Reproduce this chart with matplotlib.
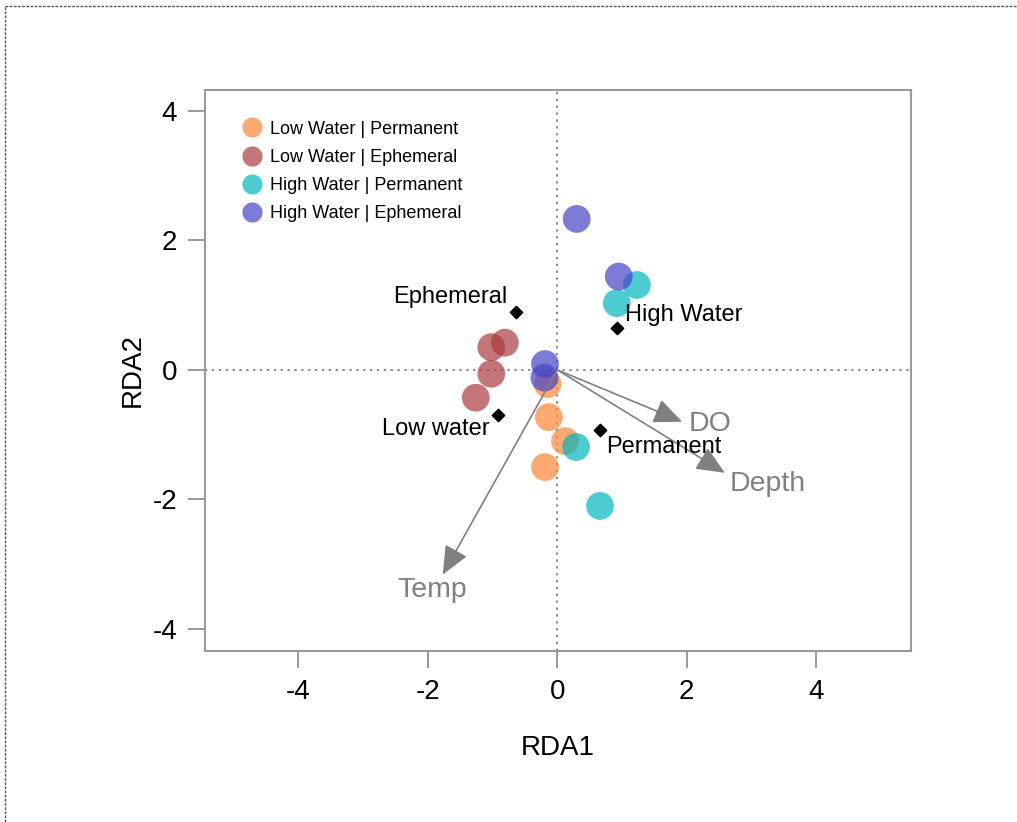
import matplotlib
matplotlib.use("Agg")
import matplotlib.pyplot as plt
from matplotlib.lines import Line2D

plt.rcParams['font.family'] = ['Liberation Sans', 'DejaVu Sans']

# ---- data ----
groups = ["Low Water | Permanent", "Low Water | Ephemeral",
          "High Water | Permanent", "High Water | Ephemeral"]
colors = ["#FC8537", "#AB3B3E", "#00B7BC", "#4545C6"]

lw_perm_x = [-0.15, -0.13, 0.12, -0.19]
lw_perm_y = [-0.22, -0.73, -1.10, -1.50]
lw_eph_x = [-0.81, -1.02, -1.02, -1.26]
lw_eph_y = [0.42, 0.35, -0.06, -0.43]
hw_perm_x = [1.23, 0.92, 0.29, 0.66]
hw_perm_y = [1.31, 1.03, -1.19, -2.10]
hw_eph_x = [0.30, 0.95, -0.19, -0.20]
hw_eph_y = [2.33, 1.44, 0.09, -0.12]

factor_names = ["Ephemeral", "High Water", "Low water", "Permanent"]
factor_x = [-0.64, 0.92, -0.92, 0.66]
factor_y = [0.90, 0.65, -0.69, -0.93]
factor_lab_x = [-1.65, 1.96, -1.87, 1.65]
factor_lab_y = [1.12, 0.84, -0.91, -1.19]

env_names = ["DO", "Depth", "Temp"]
env_x = [1.93, 2.59, -1.77]
env_y = [-0.80, -1.59, -3.16]
env_lab_x = [2.36, 3.25, -1.94]
env_lab_y = [-0.84, -1.76, -3.40]

xticks = [-4, -2, 0, 2, 4]
yticks = [-4, -2, 0, 2, 4]

# ---- figure ----
fig = plt.figure(figsize=(10.17, 8.22), dpi=100)
ax = fig.add_axes([205/1017, 1-651/822, (911-205)/1017, (651-90)/822])

ax.axhline(0, color="#666666", ls=(0, (1.5, 3)), lw=1.1, zorder=1)
ax.axvline(0, color="#666666", ls=(0, (1.5, 3)), lw=1.1, zorder=1)

xs = [lw_perm_x, lw_eph_x, hw_perm_x, hw_eph_x]
ys = [lw_perm_y, lw_eph_y, hw_perm_y, hw_eph_y]
for gx, gy, c, g in zip(xs, ys, colors, groups):
    ax.scatter(gx, gy, s=400, color=c, alpha=0.7, edgecolors='none', zorder=2)

for ex, ey in zip(env_x, env_y):
    ax.annotate("", xy=(ex, ey), xytext=(0, 0),
                arrowprops=dict(arrowstyle="-|>,head_length=0.8,head_width=0.35",
                                mutation_scale=22, color="#808080", lw=1.2,
                                shrinkA=0, shrinkB=0), zorder=3)
for name, lx, ly in zip(env_names, env_lab_x, env_lab_y):
    ax.text(lx, ly, name, color="#808080", fontsize=20.5, ha="center", va="center", zorder=4)

ax.scatter(factor_x, factor_y, marker="D", s=40, color="black", zorder=4)
for name, lx, ly in zip(factor_names, factor_lab_x, factor_lab_y):
    ax.text(lx, ly, name, color="black", fontsize=17, ha="center", va="center", zorder=5)

ax.set_xlim(-5.445, 5.467)
ax.set_ylim(-4.34, 4.32)
ax.set_xticks(xticks)
ax.set_yticks(yticks)
ax.set_xticklabels([str(t) for t in xticks])
ax.set_yticklabels([str(t) for t in yticks])
ax.tick_params(axis='both', direction='out', length=12, width=1.2, color="#888888",
               labelsize=20, pad=8)
for s in ax.spines.values():
    s.set_color("#999999")
    s.set_linewidth(1.5)
ax.set_xlabel("RDA1", fontsize=20, labelpad=22)
ax.set_ylabel("RDA2", fontsize=20, labelpad=5)

handles = [Line2D([], [], marker='o', ls='none', markersize=14.5, color=c, alpha=0.7,
                  markeredgecolor='none') for c in colors]
ax.legend(handles, groups, loc="upper left", bbox_to_anchor=(0.044, 0.958),
          frameon=False, fontsize=13, labelspacing=0.62, handletextpad=0.5,
          borderaxespad=0.0, handlelength=1.0)

# outer dotted border (cropped)
fig.add_artist(Line2D([5/1017, 1.0], [1-6/822, 1-6/822], transform=fig.transFigure,
                      color="#555555", lw=1.0, ls=(0, (2, 1))))
fig.add_artist(Line2D([5/1017, 5/1017], [0, 1-6/822], transform=fig.transFigure,
                      color="#555555", lw=1.0, ls=(0, (2, 1))))

fig.savefig("out.png", dpi=100)
